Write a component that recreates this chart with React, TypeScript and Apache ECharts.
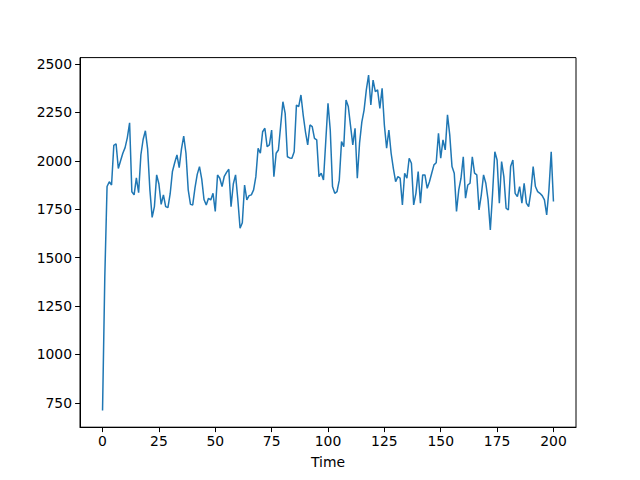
import React, { useEffect, useRef } from "react";
import * as echarts from "echarts";

const timeValues: number[] = [
  710, 1400, 1867, 1892, 1875, 2080, 2088, 1960, 2000, 2039,
  2068, 2120, 2196, 1840, 1824, 1912, 1835, 2030, 2110, 2155,
  2060, 1850, 1708, 1763, 1927, 1880, 1775, 1824, 1763, 1758,
  1830, 1945, 1990, 2030, 1965, 2060, 2128, 2039, 1850, 1775,
  1772, 1860, 1930, 1970, 1905, 1800, 1772, 1806, 1798, 1832,
  1738, 1927, 1910, 1867, 1920, 1940, 1956, 1763, 1880, 1927,
  1800, 1652, 1680, 1875, 1798, 1820, 1824, 1850, 1918, 2065,
  2039, 2150, 2168, 2073, 2082, 2159, 1918, 2039, 2056, 2180,
  2305, 2245, 2021, 2015, 2013, 2047, 2288, 2280, 2340, 2236,
  2150, 2082, 2185, 2177, 2116, 2108, 1918, 1936, 1901, 2100,
  2297, 2159, 1867, 1832, 1841, 1900, 2099, 2073, 2314, 2280,
  2180, 2082, 2168, 1910, 2091, 2200, 2262, 2366, 2443, 2288,
  2417, 2357, 2366, 2271, 2374, 2185, 2065, 2159, 2039, 1960,
  1892, 1918, 1910, 1772, 1936, 1910, 2013, 1987, 1772, 1832,
  1944, 1781, 1927, 1927, 1858, 1892, 1936, 1979, 1990, 2142,
  2013, 2108, 2056, 2237, 2134, 1970, 1936, 1738, 1850, 1910,
  2021, 1807, 1875, 1884, 2021, 1936, 1927, 1746, 1824, 1927,
  1884, 1798, 1643, 1832, 2047, 2004, 1781, 1996, 1918, 1755,
  1746, 1970, 2004, 1832, 1815, 1867, 1781, 1884, 1781, 1763,
  1841, 1970, 1867, 1841, 1832, 1820, 1798, 1720, 1850, 2047,
  1790,
];

const xTicks: number[] = [0, 25, 50, 75, 100, 125, 150, 175, 200];
const yTicks: number[] = [750, 1000, 1250, 1500, 1750, 2000, 2250, 2500];

export default function App() {
  const ref = useRef<HTMLDivElement>(null);
  useEffect(() => {
    if (!ref.current) return;
    const chart = echarts.init(ref.current, undefined, { renderer: "svg" });
    const data = timeValues.map((v, i) => [i, v]);
    const font = "DejaVu Sans";
    chart.setOption({
      animation: false,
      backgroundColor: "#ffffff",
      grid: {
        left: 80,
        right: 64,
        top: 57.6,
        bottom: 52.8,
        show: true,
        borderColor: "#000000",
        borderWidth: 1,
        backgroundColor: "transparent",
      },
      xAxis: {
        type: "value",
        min: -10,
        max: 210,
        name: "Time",
        nameLocation: "middle",
        nameGap: 28,
        nameTextStyle: { fontFamily: font, fontSize: 13.9, color: "#000" },
        splitLine: { show: false },
        axisLine: { show: true, onZero: false, lineStyle: { color: "#000", width: 1 } },
        axisTick: {
          show: true,
          length: 4.9,
          lineStyle: { color: "#000", width: 1 },
          customValues: xTicks,
        },
        axisLabel: {
          fontFamily: font,
          fontSize: 13.9,
          color: "#000",
          margin: 7,
          customValues: xTicks,
          formatter: (v: number) => String(v),
        },
      },
      yAxis: {
        type: "value",
        min: 624,
        max: 2533,
        splitLine: { show: false },
        axisLine: { show: true, onZero: false, lineStyle: { color: "#000", width: 1 } },
        axisTick: {
          show: true,
          length: 4.9,
          lineStyle: { color: "#000", width: 1 },
          customValues: yTicks,
        },
        axisLabel: {
          fontFamily: font,
          fontSize: 13.9,
          color: "#000",
          margin: 8,
          customValues: yTicks,
          formatter: (v: number) => String(v),
        },
      },
      series: [
        {
          type: "line",
          data,
          showSymbol: false,
          symbol: "none",
          lineStyle: { color: "#1f77b4", width: 1.5 },
        },
      ],
    });
    return () => chart.dispose();
  }, []);
  return (
    <div
      ref={ref}
      style={{ position: "fixed", left: 0, top: 0, width: 640, height: 480 }}
    />
  );
}
